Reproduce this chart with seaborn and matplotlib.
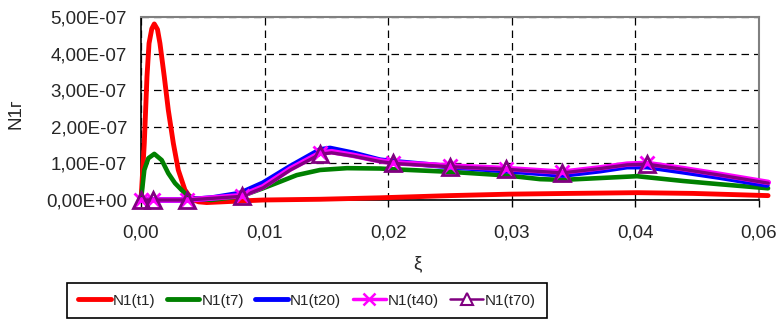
import matplotlib
matplotlib.use("Agg")
import matplotlib.pyplot as plt
from matplotlib.lines import Line2D
import seaborn as sns
import pandas as pd

# ---------------- data (values of N1 in units of 1e-7) ----------------
SCALE = 1e-7

xi_t1 = [0.0, 0.00032, 0.00058, 0.00078, 0.00105, 0.00129, 0.0016, 0.00184, 0.00226,
         0.00265, 0.00314, 0.00362, 0.00427, 0.00492, 0.0056, 0.00638, 0.00864,
         0.01184, 0.01738, 0.0232, 0.0300, 0.03583, 0.04166, 0.04816, 0.05359, 0.06088]
n1_t1 = [0.0, 1.55, 3.37, 4.28, 4.68, 4.81, 4.66, 4.28, 3.37,
         2.46, 1.55, 0.82, 0.27, 0.02, -0.05, -0.07, -0.04,
         0.0, 0.02, 0.06, 0.12, 0.16, 0.18, 0.20, 0.18, 0.12]

xi_t7 = [0.0, 0.00032, 0.00071, 0.00129, 0.00201, 0.00265, 0.00330, 0.00427, 0.00508,
         0.0068, 0.0097, 0.01184, 0.0135, 0.01512, 0.01738, 0.0200, 0.0232, 0.02447,
         0.0300, 0.03554, 0.03874, 0.04097, 0.04457, 0.04816, 0.05262, 0.05622, 0.06088]
n1_t7 = [0.0, 0.82, 1.14, 1.26, 1.09, 0.73, 0.46, 0.18, 0.05,
         0.0, 0.10, 0.32, 0.50, 0.68, 0.82, 0.87, 0.86, 0.84,
         0.77, 0.67, 0.57, 0.55, 0.60, 0.65, 0.52, 0.43, 0.32]

xi_t20 = [0.0, 0.00117, 0.00447, 0.0070, 0.00961, 0.01184, 0.01447, 0.01738, 0.01835,
          0.02058, 0.0232, 0.02447, 0.0300, 0.03554, 0.04097, 0.04457, 0.04719, 0.04913,
          0.05262, 0.05622, 0.06078]
n1_t20 = [0.0, 0.0, 0.0, 0.06, 0.18, 0.46, 0.91, 1.37, 1.41,
          1.28, 1.09, 1.05, 0.91, 0.80, 0.68, 0.80, 0.91, 0.91,
          0.77, 0.62, 0.41]

xi_t40 = [0.0, 0.00117, 0.00447, 0.0098, 0.01184, 0.0145, 0.01738, 0.0185, 0.0206,
          0.0232, 0.0245, 0.0300, 0.0354, 0.0409, 0.0446, 0.0472, 0.0491, 0.0526,
          0.0562, 0.0609]
n1_t40 = [0.0, 0.0, 0.0, 0.12, 0.36, 0.85, 1.28, 1.32, 1.22,
          1.07, 1.02, 0.93, 0.86, 0.76, 0.88, 0.98, 1.00, 0.86,
          0.70, 0.48]

xi_t70 = [0.0, 0.00117, 0.00447, 0.0098, 0.01184, 0.0145, 0.01738, 0.0185, 0.0206,
          0.0232, 0.0245, 0.0300, 0.0354, 0.0409, 0.0446, 0.0472, 0.0491, 0.0526,
          0.0562, 0.0609]
n1_t70 = [0.0, 0.0, 0.0, 0.10, 0.33, 0.82, 1.25, 1.29, 1.20,
          1.05, 1.00, 0.91, 0.84, 0.74, 0.86, 0.96, 0.98, 0.84,
          0.68, 0.46]

# marker points (t40: x, t70: triangle)
xi_marks = [0.0, 0.00117, 0.00447, 0.0098, 0.01738, 0.0245, 0.0300, 0.0354, 0.0409, 0.0491]
n1_t40_marks = [0.0, 0.0, 0.0, 0.12, 1.28, 1.02, 0.93, 0.86, 0.76, 1.00]
n1_t70_marks = [0.0, 0.0, 0.0, 0.10, 1.25, 1.00, 0.91, 0.84, 0.74, 0.98]

series_names = ["N1(t1)", "N1(t7)", "N1(t20)", "N1(t40)", "N1(t70)"]
x_ticks = [0.0, 0.012, 0.024, 0.036, 0.048, 0.06]
x_tick_labels = ["0,00", "0,01", "0,02", "0,03", "0,04", "0,06"]
y_ticks = [0.0, 1e-7, 2e-7, 3e-7, 4e-7, 5e-7]
y_tick_labels = ["0,00E+00", "1,00E-07", "2,00E-07", "3,00E-07", "4,00E-07", "5,00E-07"]

# ---------------- style ----------------
sns.set_style("white")
plt.rcParams["font.family"] = ["Liberation Sans", "DejaVu Sans"]

colors = ["#FF0000", "#008000", "#0000FF", "#FF00FF", "#800080"]
widths = [3.5, 3.3, 4.0, 4.0, 2.4]

fig = plt.figure(figsize=(7.79, 3.20), dpi=100)
ax = fig.add_axes([141 / 779, 1 - 200 / 320, (759 - 141) / 779, (200 - 17) / 320])

all_x = [xi_t1, xi_t7, xi_t20, xi_t40, xi_t70]
all_y = [n1_t1, n1_t7, n1_t20, n1_t40, n1_t70]
for name, xs, ys, c, w in zip(series_names, all_x, all_y, colors, widths):
    df = pd.DataFrame({"xi": xs, "N1": [v * SCALE for v in ys]})
    sns.lineplot(data=df, x="xi", y="N1", ax=ax, color=c, lw=w, estimator=None,
                 sort=False, clip_on=False, zorder=3, solid_joinstyle="round")

dfm = pd.DataFrame({"xi": xi_marks,
                    "t40": [v * SCALE for v in n1_t40_marks],
                    "t70": [v * SCALE for v in n1_t70_marks]})
ax.plot(dfm["xi"], dfm["t40"], ls="none", marker="x", ms=10, mew=2.0,
        color="#FF00FF", clip_on=False, zorder=4)
ax.plot(dfm["xi"], dfm["t70"], ls="none", marker="^", ms=11, mew=2.0,
        mfc="none", mec="#800080", clip_on=False, zorder=5)

ax.set_xlim(0, 0.06)
ax.set_ylim(0, 5e-7)
ax.set_xticks(x_ticks)
ax.set_xticklabels(x_tick_labels)
ax.set_yticks(y_ticks)
ax.set_yticklabels(y_tick_labels)
ax.tick_params(axis="x", direction="out", length=5, width=1, color="black",
               labelsize=13.5, pad=13, bottom=True)
ax.tick_params(axis="y", length=0, labelsize=13.5, pad=10)

ax.grid(True, color="black", ls=(0, (6, 4)), lw=0.9, zorder=1)
ax.set_axisbelow(True)
for side in ["left", "bottom"]:
    ax.spines[side].set_color("black")
    ax.spines[side].set_linewidth(1.2)
for side in ["top", "right"]:
    ax.spines[side].set_color("#808080")
    ax.spines[side].set_linewidth(1.5)
    ax.spines[side].set_visible(True)

ax.set_xlabel("ξ", fontsize=13.5)
ax.xaxis.set_label_coords((417 - 141) / 618, (200 - 255) / 183)
ax.set_ylabel("N1г", fontsize=13.5)
ax.yaxis.set_label_coords((25 - 141) / 618, (200 - 114) / 183)

handles = [
    Line2D([], [], color=colors[0], lw=3.5),
    Line2D([], [], color=colors[1], lw=3.5),
    Line2D([], [], color=colors[2], lw=3.5),
    Line2D([], [], color=colors[3], lw=2.5, marker="x", ms=9, mew=1.8),
    Line2D([], [], color=colors[4], lw=1.8, marker="^", ms=8, mew=1.5, mfc="white"),
]
leg = fig.legend(handles, series_names, loc="upper left",
                 bbox_to_anchor=(67 / 779, 1 - 283 / 320), ncol=5,
                 prop={"family": ["Liberation Sans"], "size": 11},
                 frameon=True, fancybox=False, edgecolor="black", framealpha=1,
                 handlelength=2.15, handletextpad=0.13, columnspacing=0.75,
                 borderpad=0.7, borderaxespad=0)
leg.get_frame().set_linewidth(1.2)

fig.savefig("out.png", dpi=100)
